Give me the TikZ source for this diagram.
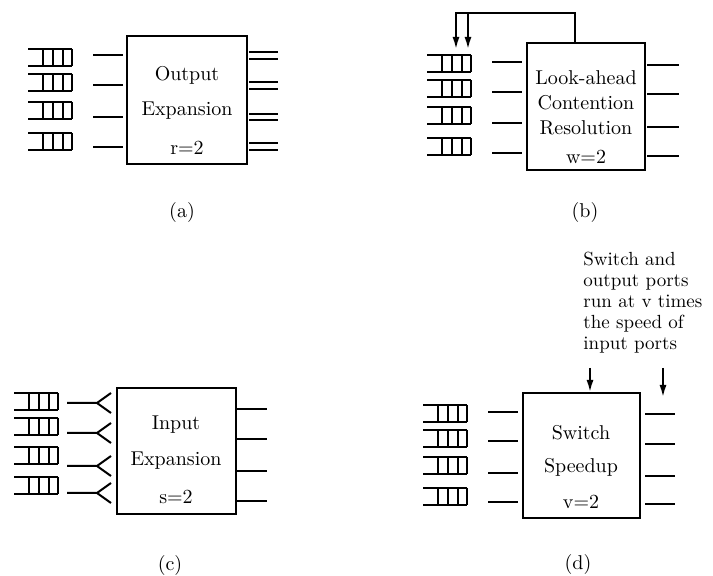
\documentclass[tikz,border=0pt]{standalone}
\usetikzlibrary{positioning, arrows.meta}

\begin{document}
\begin{tikzpicture}[
  x=0.5pt, y=-0.5pt,
  swbox/.style={draw, line width=1pt, inner sep=0pt},
  boxtext/.style={align=center, font=\normalsize},
  note/.style={align=left, inner sep=0pt, font=\fontsize{9.5}{10.5}\selectfont},
  port/.style={line width=1pt},
  qline/.style={line width=0.8pt},
  arrow/.style={-{Latex[length=6pt,width=3.5pt]}, line width=0.9pt},
  queue/.pic={
    \draw[qline] (44,0) -- (0,0) (0,17) -- (44,17);
    \foreach \u in {15,25,35,44} \draw[qline] (\u,0) -- (\u,17);
  }
]
  \useasboundingbox (0,0) rectangle (713,576);

  % (a) output expansion
  \node[swbox, minimum width=60pt, minimum height=64pt] (boxA) at (187,100) {};
  \node[boxtext] (txtA) at (187,110) {Output\\[5.5pt]Expansion\\[7.5pt]r=2};
  \foreach \y in {49,74,102,133} \pic at (28,\y) {queue};
  \foreach \y in {55,85,117,147} \draw[port] (93,\y) -- (123,\y);
  \foreach \y in {52,59,82,89,114,120,143,150} \draw[port] (249,\y) -- (278,\y);
  \node (labA) at (182,213) {(a)};

  % (b) look-ahead
  \node[swbox, minimum width=59pt, minimum height=63.5pt] (boxB) at (586,106.5) {};
  \node[boxtext] (txtB) at (586,117.5) {Look-ahead\\[0.5pt]Contention\\[0.5pt]Resolution\\[2.5pt]w=2};
  \foreach \y in {55,80,107,138} \pic at (427,\y) {queue};
  \foreach \y in {62,92,123,153} \draw[port] (492,\y) -- (522,\y);
  \foreach \y in {65,94,127,156} \draw[port] (647,\y) -- (679,\y);
  \coordinate (fbTop) at (575,13);
  \coordinate (fbA) at (456,49);
  \coordinate (fbB) at (468,49);
  \draw[arrow] (boxB.north -| fbTop) -- (fbTop) -| (fbA);
  \draw[arrow] (fbTop -| fbB) -- (fbB);
  \node (labB) at (585,213) {(b)};

  % (c) input expansion
  \node[swbox, minimum width=59.5pt, minimum height=63pt] (boxC) at (176.5,451) {};
  \node[boxtext] (txtC) at (176,460) {Input\\[6pt]Expansion\\[7pt]s=2};
  \foreach \y in {393,418,447,477} \pic at (14,\y) {queue};
  \foreach \y in {403,433,466,493}
    \draw[port] (67,\y) -- (97,\y) -- (111,\y-10) (97,\y) -- (111,\y+10);
  \foreach \y in {409,439,471,501} \draw[port] (237,\y) -- (267,\y);
  \node (labC) at (170,566) {(c)};

  % (d) switch speedup
  \node[swbox, minimum width=58.5pt, minimum height=62.5pt] (boxD) at (581.5,455.5) {};
  \node[boxtext] (txtD) at (581,467.5) {Switch\\[4.5pt]Speedup\\[6pt]v=2};
  \foreach \y in {405,430,457,488} \pic at (423,\y) {queue};
  \foreach \y in {412,441,473,502} \draw[port] (488,\y) -- (518,\y);
  \foreach \y in {414,444,476,504} \draw[port] (645,\y) -- (675,\y);
  \node[note, anchor=north west] (noteD) at (583,252)
    {Switch and\\output ports\\run at v times\\the speed of\\input ports};
  \coordinate (arrL) at (590,368);
  \coordinate (arrR) at (663,368);
  \coordinate (arrRend) at (663,397);
  \draw[arrow] (arrL) -- (arrL |- boxD.north);
  \draw[arrow] (arrR) -- (arrRend);
  \node (labD) at (578,565) {(d)};
\end{tikzpicture}
\end{document}
